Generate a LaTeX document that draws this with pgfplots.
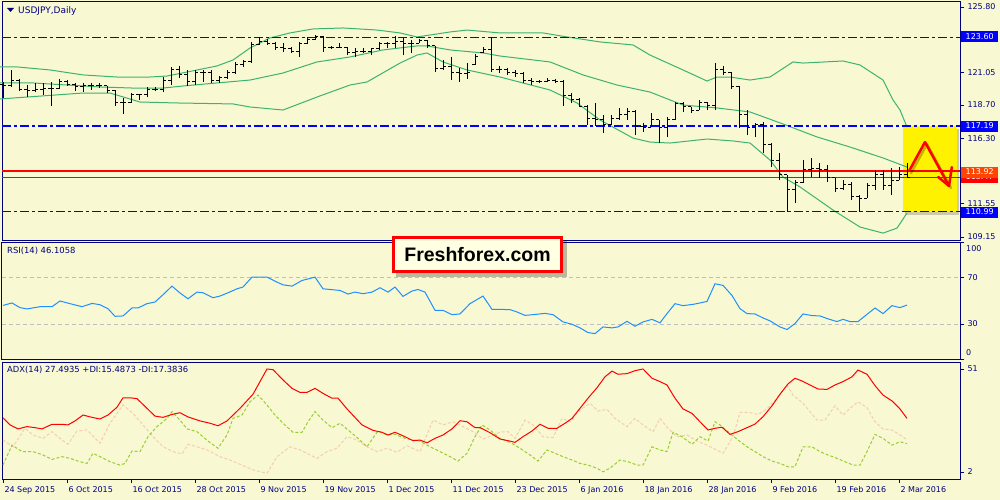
\documentclass[border=0pt]{standalone}
\usepackage{pgfplots}
\pgfplotsset{compat=1.18}
\usepackage{pgfplotstable}
\usepackage{fontspec}
\setmainfont{DejaVu Sans}
\newfontfamily\arial{Liberation Sans}

\definecolor{bg}{RGB}{248,248,210}
\definecolor{mtnavy}{RGB}{0,0,128}
\definecolor{band}{RGB}{60,179,113}
\definecolor{rsiblue}{RGB}{30,144,255}
\definecolor{diplus}{RGB}{154,205,50}
\definecolor{diminus}{RGB}{245,205,175}
\definecolor{hlblue}{RGB}{0,0,255}
\definecolor{orred}{RGB}{255,69,0}
\definecolor{boxfill}{RGB}{255,255,225}

% bar ticks: open to the left, close to the right
\pgfdeclareplotmark{otick}{\pgfpathmoveto{\pgfqpoint{-3pt}{0pt}}\pgfpathlineto{\pgfqpoint{0pt}{0pt}}\pgfusepathqstroke}
\pgfdeclareplotmark{ctick}{\pgfpathmoveto{\pgfqpoint{0pt}{0pt}}\pgfpathlineto{\pgfqpoint{3pt}{0pt}}\pgfusepathqstroke}

\pgfplotsset{
  mt4/.style={
    scale only axis, width=958pt, anchor=north west,
    xmin=-0.125, xmax=119.625, xtick=\empty,
    axis line style={mtnavy, line width=1pt},
    ytick pos=right, yticklabel pos=right,
    tick align=outside, major tick length=4pt,
    tick style={mtnavy, line width=0.8pt},
    yticklabel style={font=\fontsize{8}{9}\selectfont, text=mtnavy},
    clip=false,
  },
}
\tikzset{levelline/.style={color=hlblue, line width=1.6pt, dash pattern=on 9pt off 3pt on 3pt off 3pt}}

% USDJPY daily bars
\pgfplotstableread{
i O H L C
0 120.22 120.37 119.21 120.08
1 120.08 121.24 120.01 120.51
2 120.51 120.59 119.72 119.86
3 119.86 120.15 119.28 119.72
4 119.72 120.30 119.64 119.86
5 119.86 120.30 119.43 119.93
6 119.93 120.37 118.63 119.93
7 119.93 120.59 119.86 120.37
8 120.37 120.51 120.08 120.22
9 120.22 120.30 119.72 120.01
10 120.01 120.30 119.64 120.08
11 120.08 120.30 119.79 120.08
12 120.08 120.30 119.93 120.08
13 120.08 120.08 119.57 119.72
14 119.72 119.79 118.63 118.85
15 118.85 119.21 118.05 118.85
16 118.85 119.57 118.85 119.43
17 119.43 119.50 119.07 119.43
18 119.43 120.01 119.28 119.86
19 119.86 120.01 119.72 119.86
20 119.86 120.73 119.64 120.51
21 120.51 121.46 120.15 121.24
22 121.24 121.53 120.66 120.88
23 120.88 121.24 120.08 120.37
24 120.37 121.24 120.15 121.09
25 121.09 121.24 120.37 121.09
26 121.09 121.24 120.30 120.51
27 120.51 120.80 120.30 120.66
28 120.66 121.24 120.59 121.02
29 121.02 121.82 120.95 121.60
30 121.60 121.96 121.46 121.82
31 121.82 123.27 121.74 123.05
32 123.05 123.63 123.05 123.27
33 123.27 123.48 123.05 123.19
34 123.19 123.27 122.69 122.90
35 122.90 123.19 122.54 122.76
36 122.76 122.90 122.47 122.61
37 122.61 123.27 122.18 123.12
38 123.12 123.63 123.12 123.41
39 123.41 123.77 123.41 123.63
40 123.63 123.70 122.54 122.90
41 122.90 122.98 122.76 122.90
42 122.90 123.19 122.83 122.90
43 122.90 122.90 122.32 122.47
44 122.47 122.83 122.18 122.61
45 122.61 122.83 122.47 122.61
46 122.61 122.83 122.32 122.76
47 122.76 123.27 122.69 123.12
48 123.12 123.27 122.83 123.12
49 123.12 123.70 122.83 123.27
50 123.27 123.56 122.32 123.12
51 123.12 123.41 122.47 123.19
52 123.19 123.48 123.19 123.34
53 123.34 123.41 122.83 122.98
54 122.98 122.98 121.09 121.38
55 121.38 121.96 121.24 121.46
56 121.46 122.18 120.51 121.09
57 121.09 121.38 120.37 120.95
58 120.95 121.74 120.59 121.09
59 121.60 122.40 121.60 122.25
60 122.47 122.90 122.47 122.69
61 122.69 123.63 121.09 121.24
62 121.24 121.53 121.02 121.24
63 121.24 121.38 120.88 121.09
64 121.09 121.24 120.73 120.95
65 120.95 121.09 120.30 120.51
66 120.51 120.66 120.15 120.37
67 120.37 120.51 120.30 120.44
68 120.44 120.66 120.37 120.51
69 120.51 120.59 120.30 120.37
70 120.37 120.51 118.63 119.36
71 119.36 119.57 118.85 119.07
72 119.07 119.21 118.56 118.63
73 118.63 118.70 117.26 117.76
74 117.76 118.85 117.18 117.62
75 117.62 117.98 116.68 117.26
76 117.26 117.98 117.26 117.76
77 117.76 118.49 117.62 118.05
78 118.05 118.49 117.62 118.20
79 118.20 118.34 116.53 117.18
80 117.18 117.40 116.75 117.11
81 117.11 118.12 117.11 117.62
82 117.62 117.62 115.95 117.04
83 117.04 117.83 116.39 117.62
84 117.62 118.92 117.62 118.78
85 118.78 118.92 118.20 118.56
86 118.56 118.56 118.12 118.34
87 118.34 119.07 118.34 118.85
88 118.85 118.92 118.34 118.70
89 118.70 121.74 118.34 121.24
90 121.24 121.53 120.88 121.09
91 121.09 121.09 119.86 120.01
92 120.01 120.08 117.04 117.98
93 117.98 118.34 116.53 117.11
94 117.11 117.40 116.39 117.26
95 117.26 117.47 115.23 115.81
96 115.81 115.95 114.21 114.72
97 114.72 115.23 113.27 113.64
98 113.64 113.64 110.96 112.55
99 112.55 113.27 111.61 113.06
100 113.06 114.72 113.06 114.00
101 114.00 114.87 113.49 114.14
102 114.14 114.50 113.42 114.00
103 114.00 114.36 113.13 113.42
104 113.42 113.42 112.40 112.69
105 112.69 113.27 112.55 112.98
106 112.98 113.13 111.83 112.11
107 112.11 112.19 110.96 111.97
108 111.97 113.06 111.97 112.91
109 112.91 114.00 112.55 113.64
110 113.64 114.00 112.55 112.91
111 112.91 114.14 112.19 113.27
112 113.27 114.21 113.27 113.64
113 113.64 114.50 113.42 113.49
}\bars

% Bollinger bands, x in chart pixels
\pgfplotstableread{
x up
0 121.46
17 121.46
50 121.24
83 120.88
117 120.73
150 120.73
167 120.80
187 121.09
217 121.53
233 121.96
250 122.83
270 123.56
290 123.92
313 124.21
343 124.28
377 124.13
400 123.92
417 123.63
430 123.77
450 123.99
467 124.13
500 123.92
543 123.92
567 123.63
600 123.27
633 123.05
650 122.32
683 121.24
707 120.44
717 120.73
730 120.73
750 120.51
770 120.73
793 121.82
803 121.74
843 121.89
860 121.60
883 120.51
893 119.07
900 118.34
907 117.11
}\bbup
\pgfplotstableread{
x mid
0 120.30
33 120.30
67 120.15
100 120.01
133 119.93
163 119.93
183 120.08
217 120.30
250 120.51
283 121.02
317 121.82
350 122.18
383 122.69
417 122.98
427 122.98
450 122.69
483 122.47
500 122.25
550 121.82
583 120.88
617 120.15
650 119.64
683 118.70
717 118.49
750 118.20
783 117.33
817 116.39
850 115.66
883 114.87
907 114.21
}\bbmid
\pgfplotstableread{
x lo
0 119.14
83 119.57
110 119.57
140 118.92
177 118.85
233 118.78
250 118.56
283 118.34
317 119.28
350 120.15
367 120.37
400 121.74
417 122.32
427 122.47
443 121.82
467 121.24
500 120.73
550 119.79
577 118.85
600 117.62
633 116.31
650 116.02
670 115.95
707 116.24
733 116.10
750 115.95
770 114.72
783 113.49
800 112.77
833 111.10
860 109.87
883 109.43
897 109.79
907 110.88
}\bblo

\pgfplotstableread{
x v
3 45.8
12 47.9
20 43.9
27 42.8
40 44.7
52 44.7
60 49.6
70 47.3
82 44.7
92 47.5
100 46.4
108 43.0
115 36.5
123 36.8
132 43.6
138 43.6
147 47.3
155 48.7
163 54.9
172 62.3
180 56.4
188 51.5
197 57.2
203 56.6
213 52.4
220 53.8
228 56.6
237 60.0
243 61.5
252 70.0
267 70.0
277 65.7
283 63.4
292 62.3
302 67.1
315 70.0
323 60.0
340 58.6
348 55.5
355 57.2
363 55.8
372 57.2
380 60.9
388 57.2
395 61.5
403 53.5
412 58.1
418 59.4
425 57.2
435 41.6
443 41.6
452 37.9
460 38.5
470 47.3
483 53.8
492 42.4
500 42.4
510 42.2
517 40.2
525 37.3
533 37.9
545 39.0
553 37.9
563 31.7
572 29.7
580 26.6
588 22.6
595 21.7
603 27.4
612 26.6
618 27.4
627 32.2
635 28.0
643 31.7
652 33.9
660 30.9
667 38.8
675 47.3
683 45.6
693 46.7
700 47.9
707 49.2
715 64.3
723 62.9
732 54.3
740 43.0
747 38.8
755 38.5
763 35.1
770 32.6
780 27.4
787 25.2
795 30.3
803 38.5
812 37.1
820 36.8
828 34.3
837 32.0
843 33.9
850 32.0
858 32.0
865 36.8
875 43.6
883 38.8
892 45.6
900 43.9
907 46.1
}\rsi

\pgfplotstableread{
x v
3 27.8
10 24.4
18 22.5
27 23.6
35 23.1
42 22.5
52 24.7
62 24.7
68 24.4
75 26.3
83 29.1
92 28.0
100 27.2
108 29.1
117 32.8
123 37.3
130 37.3
137 36.9
147 32.3
155 28.6
163 28.0
172 29.4
180 30.2
188 28.2
200 26.3
210 25.2
218 24.0
227 26.3
240 32.3
253 39.0
267 51.0
273 50.7
283 45.8
292 41.8
300 39.9
307 39.9
315 41.8
323 39.4
332 37.1
338 37.1
348 31.5
362 24.4
373 21.8
382 20.9
388 19.6
395 20.9
405 18.8
413 16.9
420 17.2
427 15.9
435 18.0
443 19.6
452 22.5
460 26.4
467 25.9
475 23.1
480 23.1
490 20.7
500 17.7
510 16.7
515 16.1
523 18.8
532 21.5
540 24.7
548 22.8
557 22.8
565 25.2
572 27.5
580 32.3
588 37.1
597 42.1
605 47.3
612 50.0
618 48.5
627 48.8
635 50.2
643 51.0
652 46.6
660 45.0
667 43.4
675 37.1
683 32.0
692 29.9
700 25.9
708 22.0
715 22.8
722 23.3
730 19.9
738 21.2
747 23.1
755 24.8
763 28.3
772 33.5
780 39.0
788 43.9
795 46.6
802 45.3
810 43.4
818 41.5
827 41.3
835 43.4
843 45.0
852 47.3
858 50.5
867 48.5
875 43.1
883 38.6
892 35.8
900 32.0
907 27.5
}\adx

\pgfplotstableread{
x v
3 5.3
12 14.8
22 11.7
33 11.7
43 10.1
52 8.0
62 9.3
70 8.5
80 6.9
87 6.1
93 10.9
100 9.3
110 6.9
120 5.3
125 6.1
132 12.0
140 11.7
148 18.8
157 23.6
167 27.5
172 30.7
180 26.7
187 22.5
197 21.2
208 16.7
218 13.3
227 19.6
233 27.5
242 29.1
250 35.4
258 38.6
267 33.9
275 29.1
283 25.2
293 20.9
302 20.9
308 25.9
315 30.7
323 26.7
332 23.1
340 25.2
348 22.0
358 18.0
367 14.0
375 19.6
378 21.5
387 19.6
395 19.9
405 18.0
413 17.2
420 16.7
430 14.0
440 11.7
450 9.3
458 7.2
467 10.9
475 18.8
482 24.4
490 22.0
500 18.0
510 16.1
520 13.3
530 10.1
538 7.2
547 12.5
555 10.9
563 9.3
572 7.7
580 6.1
588 5.3
597 3.8
603 2.1
610 3.8
620 7.7
628 6.9
637 5.3
643 5.3
652 14.0
660 12.5
667 11.7
673 20.9
682 18.8
692 15.2
700 18.8
708 16.7
715 25.9
720 24.4
730 20.4
738 17.2
747 14.0
755 11.7
763 9.3
772 7.2
780 6.1
788 4.5
795 4.5
803 14.0
812 14.0
820 11.7
828 10.1
837 8.5
845 6.9
853 5.3
860 5.3
867 11.7
875 19.9
883 18.0
892 14.8
900 16.4
907 15.5
}\diplus

\pgfplotstableread{
x v
3 17.2
13 14.0
25 22.8
33 19.6
43 18.0
52 21.2
60 18.0
68 15.2
77 21.5
87 22.0
100 15.7
110 25.2
123 33.9
133 29.9
143 24.4
153 18.8
163 14.0
173 11.7
182 10.6
188 15.2
197 14.0
207 12.5
220 9.3
230 7.7
240 5.7
253 3.0
267 1.4
277 9.3
290 14.0
300 12.5
307 10.9
317 8.5
327 11.7
337 13.3
347 18.8
357 17.2
367 14.0
377 11.7
387 13.3
397 11.4
407 14.5
420 11.7
433 26.7
443 24.4
453 25.9
463 23.6
473 21.2
483 17.7
493 19.6
500 21.0
508 21.2
515 18.0
525 26.7
533 24.4
543 18.8
553 18.3
562 27.5
570 25.9
580 31.5
590 34.7
598 31.0
607 31.8
615 27.5
627 23.6
635 27.5
643 24.4
653 21.2
660 27.5
668 22.8
677 18.8
687 19.6
697 16.7
707 14.8
715 12.9
723 10.9
733 18.8
740 30.4
748 30.4
758 29.4
767 32.0
777 37.1
787 43.4
793 38.6
803 34.7
817 26.7
825 26.7
835 33.5
843 29.1
850 32.3
858 35.4
867 32.6
875 25.9
883 22.5
892 22.0
900 19.6
907 17.4
}\diminus

\begin{document}
\begin{tikzpicture}[x=1pt,y=1pt]
\fill[bg] (0,0) rectangle (1000,-500);

% ---- price panel
\begin{axis}[mt4, at={(2pt,-2pt)}, height=238pt, ymin=108.93, ymax=126.16,
    ytick={109.15,111.55,116.30,118.70,121.05,125.80},
    yticklabels={109.15,111.55,116.30,118.70,121.05,125.80}]
  % highlighted zone
  \fill[black, opacity=0.18] (axis cs:112.8,116.95) rectangle (axis cs:119.5,110.75);
  \fill[yellow] (axis cs:112.5,117.19) rectangle (axis cs:119.25,110.99);

  \addplot[band, line width=1pt] table[x expr=(\thisrow{x}-3)/8, y=up] {\bbup};
  \addplot[band, line width=1pt] table[x expr=(\thisrow{x}-3)/8, y=mid] {\bbmid};
  \addplot[band, line width=1pt] table[x expr=(\thisrow{x}-3)/8, y=lo] {\bblo};

  \addplot[levelline] table[row sep=\\] {x y\\ -0.125 123.60\\ 119.625 123.60\\};
  \addplot[levelline] table[row sep=\\] {x y\\ -0.125 117.19\\ 119.625 117.19\\};
  \addplot[levelline] table[row sep=\\] {x y\\ -0.125 110.99\\ 119.625 110.99\\};
  \addplot[red, line width=2.5pt] coordinates {(-0.125,113.92) (119.625,113.92)};
  \addplot[red, line width=1pt] coordinates {(-0.125,113.47) (119.625,113.47)};

  \addplot[draw=none, mark=none,
    error bars/.cd, y dir=plus, y explicit, error mark=none,
    error bar style={draw=black, solid, line width=1pt}]
    table[x=i, y=L, y error expr=\thisrow{H}-\thisrow{L}] {\bars};
  \addplot[black, line width=1pt, only marks, mark=otick] table[x=i, y=O] {\bars};
  \addplot[black, line width=1pt, only marks, mark=ctick] table[x=i, y=C] {\bars};

  % hand-drawn arrow
  \draw[black, opacity=0.25, line width=2.5pt, line join=round, line cap=round, shift={(2pt,-2pt)}]
    (axis cs:113.25,113.92) -- (axis cs:115.25,116.02) -- (axis cs:118.25,112.84);
  \draw[red, line width=2.5pt, line join=round, line cap=round]
    (axis cs:113.25,113.92) -- (axis cs:115.25,116.02) -- (axis cs:118.25,112.84);
  \draw[red, line width=2.5pt, line join=round, line cap=round]
    (axis cs:116.9,113.49) -- (axis cs:118.25,112.84) -- (axis cs:118.6,114.21);
\end{axis}

% ---- RSI panel
\begin{axis}[mt4, at={(2pt,-242pt)}, height=117pt, ymin=0, ymax=100,
    ytick={0,30,70,100}, yticklabels={,30,70,}]
  \addplot[black!25, line width=0.8pt, dash pattern=on 4pt off 3pt] coordinates {(-0.125,70) (119.625,70)};
  \addplot[black!25, line width=0.8pt, dash pattern=on 4pt off 3pt] coordinates {(-0.125,30) (119.625,30)};
  \addplot[rsiblue, line width=1pt] table[x expr=(\thisrow{x}-3)/8, y=v] {\rsi};
\end{axis}

% ---- ADX panel
\begin{axis}[mt4, at={(2pt,-362pt)}, height=117pt, ymin=-1.33, ymax=54.33,
    ytick={2,51}, yticklabels={2,51},
    xtick={0,8,...,112}, xtick pos=bottom,
    xticklabels={24 Sep 2015,6 Oct 2015,16 Oct 2015,28 Oct 2015,9 Nov 2015,19 Nov 2015,1 Dec 2015,11 Dec 2015,23 Dec 2015,6 Jan 2016,18 Jan 2016,28 Jan 2016,9 Feb 2016,19 Feb 2016,2 Mar 2016},
    xticklabel style={anchor=north west, font=\fontsize{8}{9}\selectfont, text=mtnavy, xshift=-2pt}]
  \addplot[diminus, line width=1pt, dash pattern=on 3pt off 2pt] table[x expr=(\thisrow{x}-3)/8, y=v] {\diminus};
  \addplot[diplus, line width=1pt, dash pattern=on 3pt off 2pt] table[x expr=(\thisrow{x}-3)/8, y=v] {\diplus};
  \addplot[red, line width=1pt] table[x expr=(\thisrow{x}-3)/8, y=v] {\adx};
\end{axis}

% panel headers
\fill[mtnavy] (7,-8) -- (14,-8) -- (10.5,-12) -- cycle;
\node[anchor=west, inner sep=0, text=mtnavy, font=\fontsize{9}{10}\selectfont] at (18,-11) {USDJPY,Daily};
\node[anchor=west, inner sep=0, text=mtnavy, font=\fontsize{8.4}{10}\selectfont] at (7,-251) {RSI(14) 46.1058};
\node[anchor=west, inner sep=0, text=mtnavy, font=\fontsize{8.4}{10}\selectfont] at (7,-370) {ADX(14) 27.4935 +DI:15.4873 -DI:17.3836};

% RSI end labels
\node[anchor=west, inner sep=0, text=mtnavy, font=\fontsize{8}{9}\selectfont] at (966,-249) {100};
\node[anchor=west, inner sep=0, text=mtnavy, font=\fontsize{8}{9}\selectfont] at (966,-353) {0};

% price tags on the right
\tikzset{tag/.style={anchor=west, inner sep=0pt, minimum width=37pt, minimum height=11pt, text=white, font=\fontsize{8}{9}\selectfont}}
\node[tag, fill=hlblue] at (961,-37) {123.60};
\node[tag, fill=hlblue] at (961,-126) {117.19};
\node[tag, fill=red] at (961,-177) {113.47};
\node[tag, fill=orred] at (961,-172) {113.92};
\node[tag, fill=hlblue] at (961,-212) {110.99};

% watermark
\fill[black, opacity=0.25] (396,-240) rectangle (567,-277);
\node[draw=red, line width=3pt, fill=boxfill, minimum width=168pt, minimum height=34pt, inner sep=0,
      font=\arial\bfseries\fontsize{19.5}{22}\selectfont] at (477.5,-254.5) {Freshforex.com};

\pgfresetboundingbox
\useasboundingbox (0,0) rectangle (1000,-500);
\end{tikzpicture}
\end{document}
